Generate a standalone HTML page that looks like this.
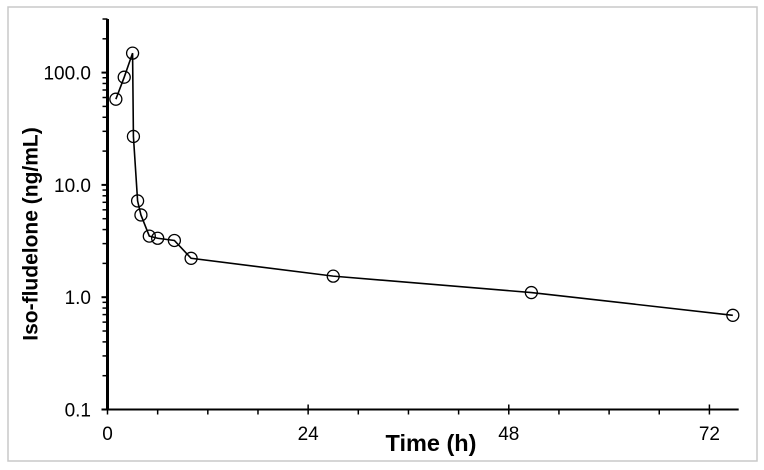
<!DOCTYPE html>
<html><head><meta charset="utf-8"><style>
body{margin:0;background:#fff;}
svg{display:block;font-family:"Liberation Sans",Arial,sans-serif;}
</style></head><body>
<svg width="764" height="470">
<rect x="8" y="7" width="749" height="454" fill="#fff" stroke="#c8c8c8" stroke-width="1.5"/>
<g id="axes"></g>
<g id="series"></g>
<text x="31" y="234" transform="rotate(-90 31 234)" text-anchor="middle" dominant-baseline="central" font-size="21" font-weight="bold">Iso-fludelone (ng/mL)</text>
<text x="431" y="451" text-anchor="middle" font-size="23.5" font-weight="bold">Time (h)</text>
</svg>
<script>
const times=[1,2,3,3.1,3.6,4,5,6,8,10,27,50.7,74.8];
const conc=[58,91,149,27,7.2,5.4,3.5,3.35,3.2,2.22,1.54,1.1,0.69];
const xTicks=[0,24,48,72];
const yTicks=[0.1,1,10,100];
const yLabels=["0.1","1.0","10.0","100.0"];
const X0=107.5,XS=8.36,YB=409.5,YD=112.3;
const x=t=>X0+t*XS;
const y=v=>YB-(Math.log10(v)+1)*YD;
const NS="http://www.w3.org/2000/svg";
function mk(tag,attrs,parent){const e=document.createElementNS(NS,tag);for(const k in attrs)e.setAttribute(k,attrs[k]);parent.appendChild(e);return e;}
const ax=document.getElementById('axes');
const xa=mk('line',{x1:X0-1.5,x2:x(75.5),y1:YB,y2:YB,stroke:'#000','stroke-width':2},ax);


const ya=mk('line',{x1:X0,x2:X0,y1:YB+1,y2:19,stroke:'#000','stroke-width':3},ax);


for(let t=0;t<=78;t+=6){if(x(t)>x(75.5))break;const major=t%24===0;
 const tk=mk('line',{x1:x(t),x2:x(t),y1:major?YB-5:YB,y2:YB+5,stroke:'#000','stroke-width':1.5},ax);
 
 }
xTicks.forEach(t=>{const tx=mk('text',{x:x(t),y:440,'text-anchor':'middle','font-size':19},ax);tx.textContent=t;
 
 });
for(let d=-1;d<=2;d++){for(let m=1;m<=9;m++){const v=m*Math.pow(10,d);if(y(v)<19)break;
 const tk=mk('line',{x1:X0-(m===1?6:5),x2:X0,y1:y(v),y2:y(v),stroke:'#000','stroke-width':m===1?2:1.5},ax);
 
 }}
yTicks.forEach((v,i)=>{const tx=mk('text',{x:91,y:y(v)+7,'text-anchor':'end','font-size':19},ax);tx.textContent=yLabels[i];
 
 });
const s=document.getElementById('series');
const ln=mk('polyline',{points:times.map((t,i)=>x(t)+','+y(conc[i])).join(' '),fill:'none',stroke:'#000','stroke-width':1.6},s);


times.forEach((t,i)=>{const c=mk('circle',{cx:x(t),cy:y(conc[i]),r:6,fill:'none',stroke:'#000','stroke-width':1.3},s);
 
 });
</script>
</body></html>
